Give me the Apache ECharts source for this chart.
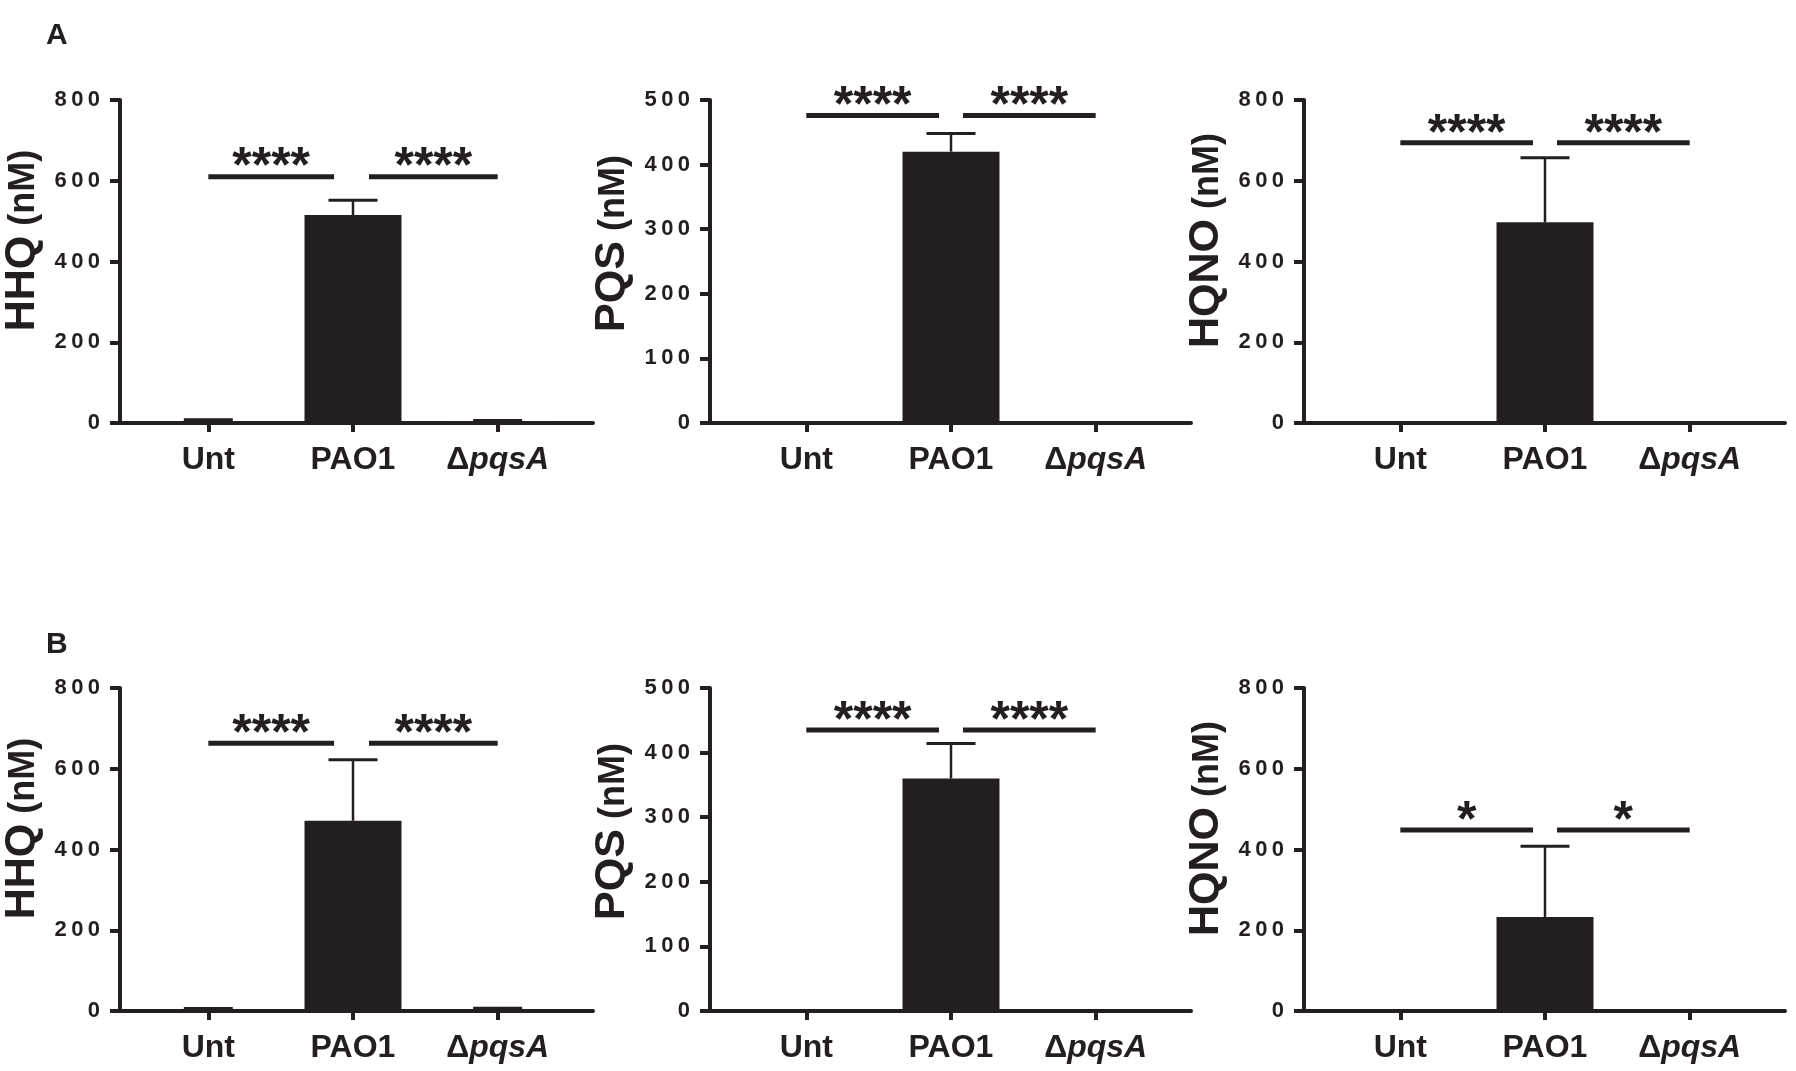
<!DOCTYPE html>
<html>
<head>
<meta charset="utf-8">
<title>HHQ / PQS / HQNO</title>
<script src="https://cdn.jsdelivr.net/npm/echarts@6/dist/echarts.min.js"></script>
<style>
  html, body { margin: 0; padding: 0; background: #fff; }
  #main { width: 1796px; height: 1071px; }
</style>
</head>
<body>
<div id="main"></div>
<script>
// categories and y axis ticks
var categories = ['Unt', 'PAO1', 'ΔpqsA'];
var compounds = ['HHQ', 'PQS', 'HQNO'];
var yMax = [800, 500, 800];
var yInterval = [200, 100, 200];

// panel A (mean, error)
var hhqA = [3, 515, 2];
var hhqAErr = [5, 37, 4];
var pqsA = [0, 420, 0];
var pqsAErr = [0, 28, 0];
var hqnoA = [0, 497, 0];
var hqnoAErr = [0, 160, 0];

// panel B (mean, error)
var hhqB = [2, 471, 3];
var hhqBErr = [4, 151, 4];
var pqsB = [0, 360, 0];
var pqsBErr = [0, 54, 0];
var hqnoB = [0, 233, 0];
var hqnoBErr = [0, 175, 0];

// significance bars (height, label), vs PAO1
var sigHeightA = [610, 476, 694];
var sigLabelA = ['****', '****', '****'];
var sigHeightB = [663, 435, 448];
var sigLabelB = ['****', '****', '*'];

var INK = '#231f20';
var FONT = '"Liberation Sans", Arial, sans-serif';
var THIN = '\u2009';

// layout
var colX = [112, 710, 1304];
var rowTop = [100, 688];
var plotH = 323;
var axisLen = 481;
var innerOff = 24;
var innerW = 434;
var nameShift = [21, 18, 21];
var sigGap = [[19, 16], [12, 12], [12, 12]];

var panels = [
  {row: 0, col: 0, val: hhqA, err: hhqAErr, sigY: sigHeightA[0], sig: sigLabelA[0]},
  {row: 0, col: 1, val: pqsA, err: pqsAErr, sigY: sigHeightA[1], sig: sigLabelA[1]},
  {row: 0, col: 2, val: hqnoA, err: hqnoAErr, sigY: sigHeightA[2], sig: sigLabelA[2]},
  {row: 1, col: 0, val: hhqB, err: hhqBErr, sigY: sigHeightB[0], sig: sigLabelB[0]},
  {row: 1, col: 1, val: pqsB, err: pqsBErr, sigY: sigHeightB[1], sig: sigLabelB[1]},
  {row: 1, col: 2, val: hqnoB, err: hqnoBErr, sigY: sigHeightB[2], sig: sigLabelB[2]}
];

var grid = [], xAxis = [], yAxis = [], series = [];

function spaced(v) {
  return String(v).split('').join(THIN);
}

panels.forEach(function (p, i) {
  var outer = i * 2, inner = i * 2 + 1;
  var left = colX[p.col], top = rowTop[p.row];
  var max = yMax[p.col], itv = yInterval[p.col];
  var gaps = sigGap[p.col];

  grid.push({left: left, top: top, width: axisLen, height: plotH});
  grid.push({left: left + innerOff, top: top, width: innerW, height: plotH});

  // outer grid: axis lines, y ticks and name
  xAxis.push({
    type: 'value', gridIndex: outer, min: 0, max: 1,
    axisLine: {show: true, lineStyle: {color: INK, width: 4}},
    axisTick: {show: false}, axisLabel: {show: false}, splitLine: {show: false}
  });
  yAxis.push({
    type: 'value', gridIndex: outer, min: 0, max: max, interval: itv,
    axisLine: {show: true, lineStyle: {color: INK, width: 4}},
    axisTick: {show: true, length: 10, lineStyle: {color: INK, width: 4}},
    axisLabel: {
      margin: 20, color: INK, fontFamily: FONT, fontWeight: 'bold', fontSize: 22,
      formatter: spaced
    },
    splitLine: {show: false},
    name: '{a|' + compounds[p.col] + '}{b| (nM)}',
    nameLocation: 'middle', nameRotate: 90, nameGap: 76,
    nameTextStyle: {
      padding: [0, 0, 0, nameShift[p.col] * 2],
      rich: {
        a: {fontFamily: FONT, fontWeight: 'bold', fontSize: 43, color: INK},
        b: {fontFamily: FONT, fontWeight: 'bold', fontSize: 36, color: INK, padding: [4, 0, 0, 0]}
      }
    }
  });

  // inner grid: categories and marks
  xAxis.push({
    type: 'category', gridIndex: inner, data: categories,
    axisLine: {show: false},
    axisTick: {show: true, alignWithLabel: true, length: 9, lineStyle: {color: INK, width: 4}},
    axisLabel: {
      margin: 21, color: INK, interval: 0,
      formatter: function (v) {
        return v.charAt(0) === 'Δ' ? '{d|Δ}{i|' + v.slice(1) + '}' : '{n|' + v + '}';
      },
      rich: {
        n: {fontFamily: FONT, fontWeight: 'bold', fontSize: 32, color: INK},
        d: {fontFamily: FONT, fontWeight: 'bold', fontSize: 32, color: INK},
        i: {fontFamily: FONT, fontWeight: 'bold', fontStyle: 'italic', fontSize: 32, color: INK}
      }
    }
  });
  yAxis.push({type: 'value', gridIndex: inner, min: 0, max: max, show: false});

  series.push({
    type: 'bar', xAxisIndex: inner, yAxisIndex: inner,
    data: p.val, barWidth: 97, itemStyle: {color: INK}, silent: true
  });

  series.push({
    type: 'custom', xAxisIndex: inner, yAxisIndex: inner, silent: true,
    data: p.val.map(function (v, k) { return [k, v, p.err[k]]; }),
    renderItem: function (params, api) {
      var e = api.value(2);
      if (!e) return;
      var base = api.coord([api.value(0), api.value(1)]);
      var tip = api.coord([api.value(0), api.value(1) + e]);
      var half = 24.5;
      return {
        type: 'group',
        children: [
          {type: 'line', shape: {x1: tip[0], y1: base[1], x2: tip[0], y2: tip[1]},
            style: {stroke: INK, lineWidth: 2.5}},
          {type: 'line', shape: {x1: tip[0] - half, y1: tip[1], x2: tip[0] + half, y2: tip[1]},
            style: {stroke: INK, lineWidth: 3}}
        ]
      };
    }
  });

  // significance: Unt vs PAO1 and PAO1 vs ΔpqsA
  var ref = 1;
  series.push({
    type: 'custom', xAxisIndex: inner, yAxisIndex: inner, silent: true,
    data: [[0, ref, p.sigY], [ref, 2, p.sigY]],
    renderItem: function (params, api) {
      var a = api.value(0), b = api.value(1), y = api.value(2);
      var p1 = api.coord([a, y]), p2 = api.coord([b, y]);
      var x1 = p1[0] + (a === ref ? gaps[1] : 0);
      var x2 = p2[0] - (b === ref ? gaps[0] : 0);
      return {
        type: 'group',
        children: [
          {type: 'line', shape: {x1: x1, y1: p1[1], x2: x2, y2: p1[1]},
            style: {stroke: INK, lineWidth: 5}},
          {type: 'text', style: {
            text: p.sig, x: (x1 + x2) / 2, y: p1[1] - 8,
            align: 'center', verticalAlign: 'middle',
            font: 'bold 50px ' + FONT, fill: INK
          }}
        ]
      };
    }
  });
});

var chart = echarts.init(document.getElementById('main'));
chart.setOption({
  backgroundColor: '#fff',
  animation: false,
  title: [
    {text: 'A', left: 46, top: 21, padding: 0,
      textStyle: {fontFamily: FONT, fontWeight: 'bold', fontSize: 30, color: INK}},
    {text: 'B', left: 46, top: 630, padding: 0,
      textStyle: {fontFamily: FONT, fontWeight: 'bold', fontSize: 30, color: INK}}
  ],
  grid: grid,
  xAxis: xAxis,
  yAxis: yAxis,
  series: series
});
</script>
</body>
</html>
